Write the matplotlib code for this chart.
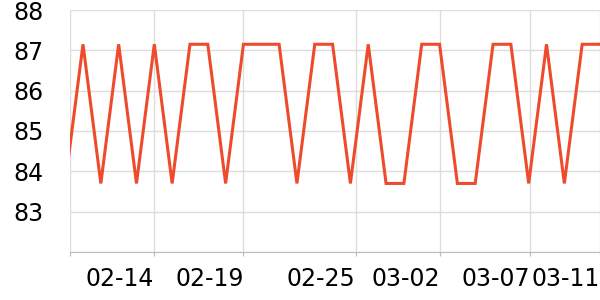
import numpy as np
import pandas as pd
import matplotlib
matplotlib.use("Agg")
from matplotlib import pyplot as plt
import matplotlib.dates as mdates

# daily values, 2023-02-09 .. 2023-03-11
dates = pd.date_range("2023-02-09", "2023-03-11", freq="D")
values = [83.7, 87.15, 83.7, 87.15, 83.7, 87.15, 83.7, 87.15, 87.15, 83.7,
          87.15, 87.15, 87.15, 83.7, 87.15, 87.15, 83.7, 87.15, 83.7, 83.7,
          87.15, 87.15, 83.7, 83.7, 87.15, 87.15, 83.7, 87.15, 83.7, 87.15,
          87.15]

tick_dates = pd.to_datetime(["2023-02-09 06:30", "2023-02-14 00:00", "2023-02-19 00:00",
                             "2023-02-25 07:00", "2023-03-02 00:00", "2023-03-07 01:30",
                             "2023-03-11 00:00"])
tick_labels = ["", "02-14", "02-19", "02-25", "03-02", "03-07", "03-11"]
y_ticks = [82, 83, 84, 85, 86, 87, 88]
y_labels = ["", "83", "84", "85", "86", "87", "88"]

fig = plt.figure(figsize=(6, 3), dpi=100)
ax = fig.add_axes([70 / 600, 48 / 300, 530 / 600, 242 / 300])

ax.plot(dates, values, color="#ee4b2d", linewidth=2.2, solid_joinstyle="miter")

ax.set_xlim(pd.Timestamp("2023-02-09 06:30"), pd.Timestamp("2023-03-11"))
ax.set_ylim(82, 88)

ax.set_xticks(mdates.date2num(tick_dates))
ax.set_xticklabels(tick_labels, ha="right", fontsize=17)
ax.set_yticks(y_ticks)
ax.set_yticklabels(y_labels, fontsize=17)

ax.grid(True, color="#dddddd", linewidth=1)
ax.set_axisbelow(True)
for side in ["top", "right", "left"]:
    ax.spines[side].set_visible(False)
ax.spines["bottom"].set_color("#bbbbbb")
ax.tick_params(axis="x", length=3, color="#bbbbbb", pad=8)
ax.tick_params(axis="y", length=0, pad=19)
for lbl in ax.get_xticklabels():
    lbl.set_clip_on(False)

fig.savefig("out.png")
